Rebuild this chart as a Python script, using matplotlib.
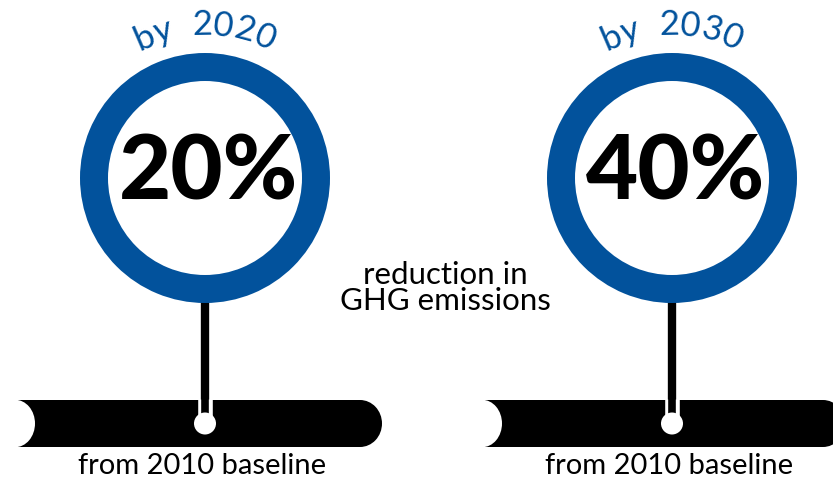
import numpy as np
import matplotlib
matplotlib.use("Agg")
import matplotlib.pyplot as plt
from matplotlib.patches import Wedge, Rectangle, Ellipse, Circle
from matplotlib.font_manager import FontProperties
from matplotlib.textpath import text_to_path

# ---- data ----
percentages = [20, 40]
target_years = [2020, 2030]
baseline_label = "from 2010 baseline"
middle_label = "reduction in\nGHG emissions"

BLUE = "#02529C"
FONT = "Lato"

W, H = 833, 479
fig = plt.figure(figsize=(W / 100, H / 100), dpi=100)
ax = fig.add_axes([0, 0, 1, 1])
ax.set_xlim(0, W)
ax.set_ylim(H, 0)
ax.axis("off")

centers_x = [205, 672]
cy = 178
R_out, ring_w = 125, 28
bar_top, bar_h = 400, 47
bar_left = [15, 482]
bar_right = [382, 845]


def curved_text(s, cx, cy, radius, size, color):
    prop = FontProperties(family=FONT, size=size)
    widths = []
    for ch in s:
        w, h, d = text_to_path.get_text_width_height_descent(ch, prop, ismath=False)
        widths.append(w * 100 / 72)
    total = sum(widths)
    pos = -total / 2
    for ch, w in zip(s, widths):
        mid = pos + w / 2
        th = mid / radius
        x = cx + radius * np.sin(th)
        y = cy - radius * np.cos(th)
        ax.text(x, y, ch, fontproperties=prop, color=color, ha="center",
                va="baseline", rotation=-np.degrees(th), rotation_mode="anchor")
        pos += w


for i, (pct, yr) in enumerate(zip(percentages, target_years)):
    cx = centers_x[i]
    # stem
    ax.plot([cx, cx], [cy + R_out - 2, bar_top + 18], color="black", lw=6,
            solid_capstyle="butt", zorder=1)
    # bar
    bl, br = bar_left[i], bar_right[i]
    ym = bar_top + bar_h / 2
    ax.add_patch(Rectangle((bl, bar_top), br - 22 - bl, bar_h, color="black", lw=0, zorder=2))
    ax.add_patch(Ellipse((br - 22, ym), 44, bar_h, color="black", lw=0, zorder=2))
    ax.add_patch(Ellipse((bl, ym), 40, bar_h + 0.5, color="white", lw=0, zorder=3))
    # stem inside bar with white outline
    ax.plot([cx, cx], [bar_top - 1, ym - 2], color="white", lw=10.5,
            solid_capstyle="butt", zorder=4)
    ax.plot([cx, cx], [bar_top - 2, ym - 2], color="black", lw=5.5,
            solid_capstyle="butt", zorder=5)
    ax.add_patch(Circle((cx, ym), 11, color="white", lw=0, zorder=6))
    # ring
    ax.add_patch(Circle((cx, cy), R_out - ring_w, color="white", lw=0, zorder=7))
    ax.add_patch(Wedge((cx, cy), R_out, 0, 360, width=ring_w, color=BLUE, lw=0, zorder=8))
    ax.text(cx + 4, cy - 4, f"{pct}%", fontsize=65, fontweight="black", family=FONT,
            ha="center", va="center", color="black", zorder=9)
    curved_text(f"by  {yr}", cx, cy, 143, 25, BLUE)
    ax.text(cx - 3, 466, baseline_label, fontsize=21, family=FONT, ha="center",
            va="center", color="black")

ax.text(445, 288, middle_label, fontsize=22.5, family=FONT, ha="center",
        va="center", color="black", linespacing=0.95)

fig.savefig("out.png", dpi=100)
